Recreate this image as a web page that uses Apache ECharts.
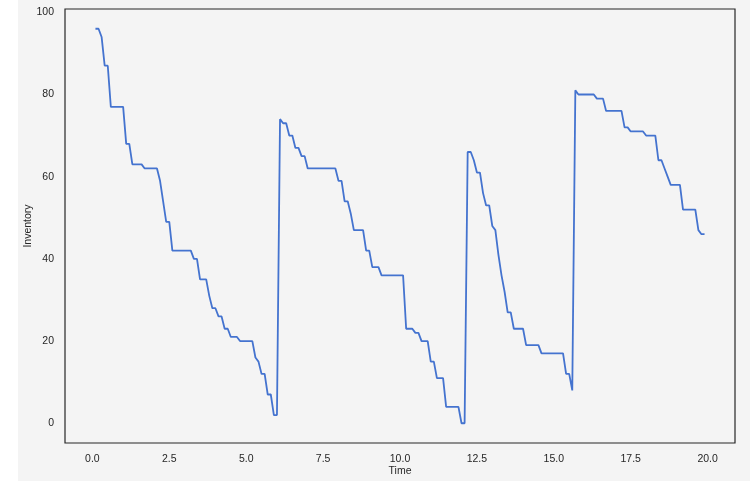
<!DOCTYPE html>
<html><head><meta charset="utf-8">
<script src="https://cdn.jsdelivr.net/npm/echarts@6/dist/echarts.min.js"></script>
<style>html,body{margin:0;padding:0;background:#fff}#c{width:750px;height:481px;background:linear-gradient(to right,#ffffff 0,#ffffff 18px,#f4f4f4 18px)}</style>
</head><body><div id="c"></div><script>
const times=[0.1,0.2,0.3,0.4,0.5,0.6,1.0,1.1,1.2,1.3,1.6,1.7,2.1,2.2,2.3,2.4,2.5,2.6,3.2,3.3,3.4,3.5,3.7,3.8,3.9,4.0,4.1,4.2,4.3,4.4,4.5,4.7,4.8,5.2,5.3,5.4,5.5,5.6,5.7,5.8,5.9,6.0,
6.1,6.2,6.3,6.4,6.5,6.6,6.7,6.8,6.9,7.0,7.9,8.0,8.1,8.2,8.3,8.4,8.5,8.8,8.9,9.0,9.1,9.3,9.4,10.1,10.2,10.4,10.5,10.6,10.7,10.9,11.0,11.1,11.2,11.4,11.5,11.9,12.0,12.1,
12.2,12.3,12.4,12.5,12.6,12.7,12.8,12.9,13.0,13.1,13.2,13.3,13.4,13.5,13.6,13.7,14.0,14.1,14.5,14.6,15.3,15.4,15.5,15.6,
15.7,15.8,16.3,16.4,16.6,16.7,17.2,17.3,17.4,17.5,17.9,18.0,18.3,18.4,18.5,18.6,18.7,18.8,19.1,19.2,19.6,19.7,19.8,19.9];
const inventory=[96,96,94,87,87,77,77,68,68,63,63,62,62,59,54,49,49,42,42,40,40,35,35,31,28,28,26,26,23,23,21,21,20,20,16,15,12,12,7,7,2,2,
74,73,73,70,70,67,67,65,65,62,62,59,59,54,54,51,47,47,42,42,38,38,36,36,23,23,22,22,20,20,15,15,11,11,4,4,0,0,
66,66,64,61,61,56,53,53,48,47,41,36,32,27,27,23,23,19,19,17,17,12,12,8,
81,80,80,79,79,76,76,72,72,71,71,70,70,64,64,62,60,58,58,52,52,47,46,46];
const xTicks=[0,2.5,5,7.5,10,12.5,15,17.5,20];
const yTicks=[0,20,40,60,80,100];

const font='"Liberation Sans", Arial, sans-serif';
const txt='#262626';
const chart=echarts.init(document.getElementById('c'),null,{renderer:'canvas'});
chart.setOption({
  animation:false,
  backgroundColor:'transparent',
  grid:{left:65,top:9,width:670,height:434,show:true,borderColor:'#262626',borderWidth:1.2,backgroundColor:'transparent',containLabel:false,outerBoundsMode:'none'},
  xAxis:{type:'value',min:-0.89,max:20.89,
    axisLine:{show:false},axisTick:{show:false},splitLine:{show:false},
    axisLabel:{customValues:xTicks,formatter:v=>v.toFixed(1),color:txt,fontSize:10.5,fontFamily:font,margin:11},
    name:'Time',nameLocation:'middle',nameGap:23,nameMoveOverlap:false,nameTextStyle:{color:txt,fontSize:10.5,fontFamily:font}},
  yAxis:{type:'value',min:-4.8,max:100.8,
    axisLine:{show:false},axisTick:{show:false},splitLine:{show:false},
    axisLabel:{customValues:yTicks,color:txt,fontSize:10.5,fontFamily:font,margin:11},
    name:'Inventory',nameLocation:'middle',nameGap:31,nameMoveOverlap:false,nameTextStyle:{color:txt,fontSize:10.5,fontFamily:font}},
  series:[{type:'line',data:times.map((t,i)=>[t,inventory[i]]),showSymbol:false,
    lineStyle:{color:'#4473cf',width:1.8},itemStyle:{color:'#4473cf'}}]
});
</script></body></html>
